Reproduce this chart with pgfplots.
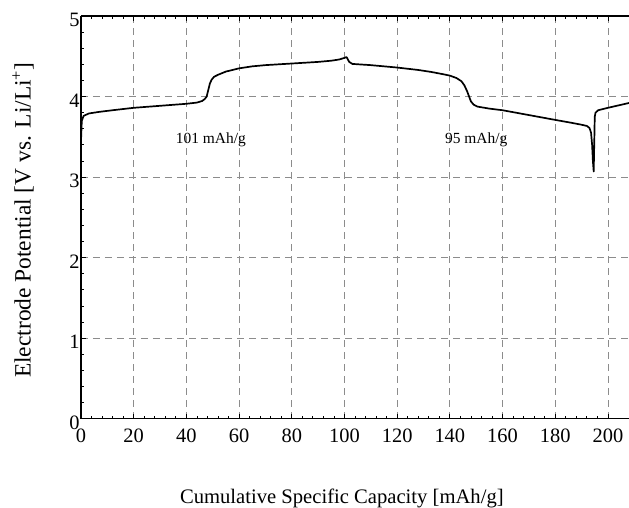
\documentclass[border=0pt]{standalone}
\usepackage{fontspec}
\setmainfont{Liberation Serif}
\usepackage{pgfplots}
\pgfplotsset{compat=1.18}
\begin{document}
\begin{tikzpicture}
\begin{axis}[
  scale only axis, width=548bp, height=402.7bp,
  xmin=0, xmax=208, ymin=0, ymax=5,
  axis y line*=left,
  xtick={0,20,...,200}, ytick={0,1,...,5},
  minor x tick num=4, minor y tick num=4,
  tick align=inside,
  major tick length=5bp, minor tick length=3bp,
  every tick/.style={black, line width=0.8bp},
  axis line style={line width=1.3bp, black},
  grid=major,
  major grid style={dash pattern=on 7bp off 5bp, black!45, line width=0.8bp},
  /pgf/number format/assume math mode=true,
  xticklabel={\fontsize{20.5}{22}\selectfont\pgfmathprintnumber{\tick}},
  yticklabel={\fontsize{20.5}{22}\selectfont\pgfmathprintnumber{\tick}},
  xticklabel style={yshift=-7bp},
  yticklabel style={xshift=2bp, yshift=-4bp},
  xlabel={Cumulative Specific Capacity [mAh/g]},
  ylabel={Electrode Potential [V vs. Li/Li\textsuperscript{+}]},
  xlabel style={at={(axis description cs:0.476,-0.2094)}, anchor=base, font=\fontsize{20.7}{22}\selectfont},
  ylabel style={at={(axis description cs:-0.1058,0.493)}, anchor=center, font=\fontsize{23.5}{25}\selectfont},
  clip=true,
]
\addplot[black, line width=1.7bp, line join=round] coordinates {
(0,3.45) (0.3,3.70) (1,3.76) (3,3.79) (7,3.81) (12,3.83) (20,3.86) (30,3.885)
(40,3.91) (44,3.925) (46,3.945) (47,3.97) (47.7,4.00) (48.3,4.08) (48.9,4.16)
(49.6,4.21) (50.5,4.245) (52,4.27) (55,4.31) (60,4.35) (65,4.375) (70,4.39)
(80,4.41) (90,4.43) (95,4.445) (98,4.46) (100,4.48) (100.8,4.49) (101.3,4.46)
(101.8,4.43) (103,4.405) (110,4.39) (120,4.36) (128,4.33) (133,4.305) (137,4.28)
(140,4.26) (142.5,4.23) (144.4,4.19) (145.5,4.14) (146.5,4.07) (147.3,4.00)
(148,3.94) (149,3.90) (150.5,3.875) (155,3.85) (160,3.83) (170,3.77) (180,3.71)
(186,3.675) (190,3.65) (192,3.635) (193,3.61) (193.6,3.55) (194,3.40) (194.3,3.20)
(194.6,3.07) (194.8,3.40) (195.0,3.75) (195.3,3.80) (196.3,3.83) (200,3.86)
(204,3.89) (208,3.92)
};
\node[font=\fontsize{15.5}{17}\selectfont] at (axis cs:49.3,3.46) {101 mAh/g};
\node[font=\fontsize{15.5}{17}\selectfont] at (axis cs:150,3.46) {95 mAh/g};
\end{axis}
\pgfresetboundingbox
\path ([xshift=-81bp,yshift=-89.3bp]current axis.south west) rectangle ([yshift=16bp]current axis.north east);
\end{tikzpicture}
\end{document}
